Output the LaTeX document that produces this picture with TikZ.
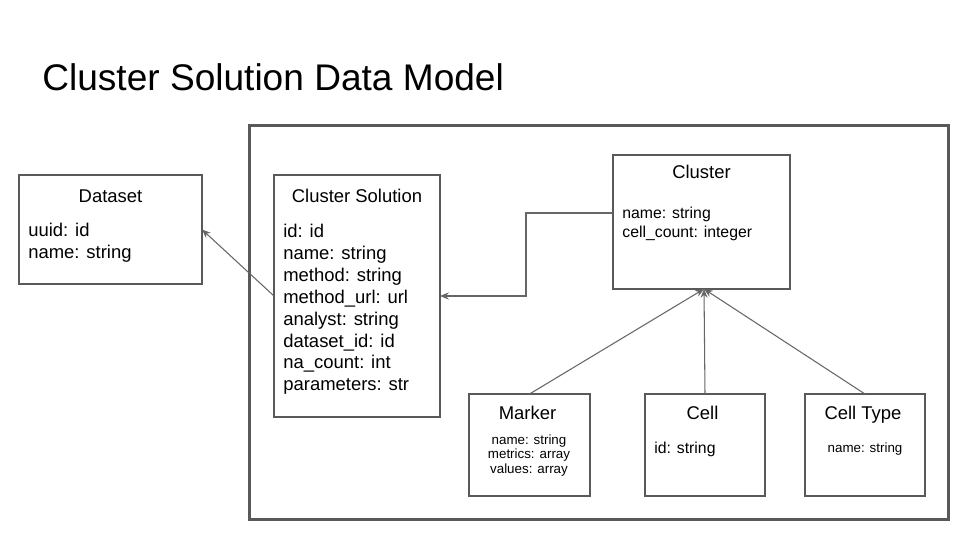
\documentclass[tikz,border=0pt]{standalone}
\usepackage{fontspec}
\setmainfont{Liberation Sans}
\usetikzlibrary{arrows.meta, positioning, calc}
\definecolor{linegray}{HTML}{595959}
\definecolor{arrowgray}{HTML}{666666}

\begin{document}
\begin{tikzpicture}[
  x=0.02cm, y=-0.02cm,
  frame/.style={draw=linegray, line width=1.7pt, inner sep=0pt, outer sep=0pt, minimum width=14cm, minimum height=7.9cm},
  entity/.style={draw=linegray, line width=0.6pt, fill=white, inner sep=0pt, outer sep=0pt},
  head/.style={font=\fontsize{10.5}{12.5}\selectfont, anchor=base, inner sep=0pt},
  attr/.style={font=\fontsize{10.5}{12.5}\selectfont, align=left, anchor=north west, inner sep=0pt},
  midattr/.style={attr, font=\fontsize{9}{10.8}\selectfont},
  smallattr/.style={font=\fontsize{7.6}{8.2}\selectfont, align=center, anchor=north, inner sep=0pt},
  link/.style={draw=arrowgray, line width=0.6pt, -{Stealth[length=5pt, width=4pt]}}
]
\fill[white] (0,0) rectangle (960,540);
\useasboundingbox (0,0) rectangle (960,540);

\node[font=\fontsize{21.1}{25}\selectfont, anchor=base west, inner sep=0pt] (title) at (42,91) {Cluster Solution Data Model};

\node[frame] (frame) at (599,322.5) {};

% entities
\node[entity, minimum width=3.66cm, minimum height=2.18cm] (dataset) at (110.5,229.5) {};
\node[head] (datasethead) at (110.5,202.7) {Dataset};
\node[attr] (datasetattr) at (28,223) {uuid: id\\name: string};

\node[entity, minimum width=3.32cm, minimum height=4.84cm] (solution) at (357,296) {};
\node[head] (solutionhead) at (357,202.3) {Cluster Solution};
\node[attr] (solutionattr) at (283,223.5) {id: id\\name: string\\method: string\\method\_url: url\\analyst: string\\dataset\_id: id\\na\_count: int\\parameters: str};

\node[entity, minimum width=3.54cm, minimum height=2.68cm] (cluster) at (701.5,222) {};
\node[head] (clusterhead) at (701.5,178.7) {Cluster};
\node[midattr] (clusterattr) at (622,206.6) {name: string\\cell\_count: integer};

\node[entity, minimum width=2.42cm, minimum height=2.04cm] (marker) at (529.5,445) {};
\node[head] (markerhead) at (527.5,419) {Marker};
\node[smallattr] (markerattr) at (529,434.5) {name: string\\metrics: array\\values: array};

\node[entity, minimum width=2.4cm, minimum height=2.04cm] (cell) at (705,445) {};
\node[head] (cellhead) at (702.5,419) {Cell};
\node[midattr] (cellattr) at (654,441.5) {id: string};

\node[entity, minimum width=2.4cm, minimum height=2.04cm] (celltype) at (865,445) {};
\node[head] (celltypehead) at (863,419) {Cell Type};
\node[smallattr] (celltypeattr) at (865,442) {name: string};

% links
\coordinate (hub) at ([xshift=0.05cm]cluster.south);
\draw[link] (solution.west) -- (dataset.east);
\draw[link] ([yshift=0.18cm]cluster.west) -- ++(-87,0) |- (solution.east);
\draw[link] (marker.north) -- (hub);
\draw[link] (cell.north) -- (hub);
\draw[link] (celltype.north) -- (hub);
\end{tikzpicture}
\end{document}
